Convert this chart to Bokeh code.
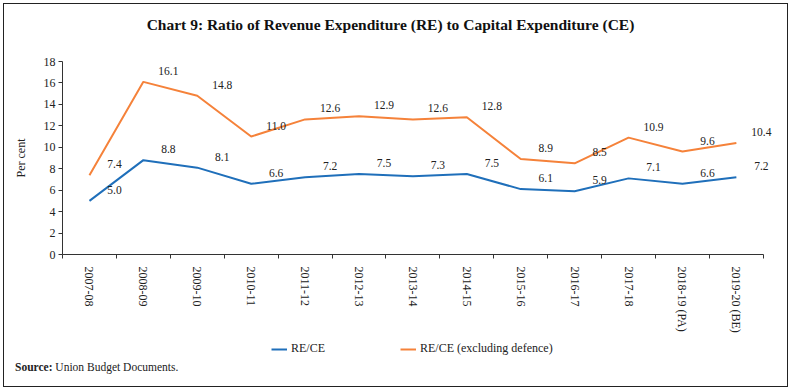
from bokeh.plotting import figure
from bokeh.models import (Range1d, FixedTicker, Legend, LegendItem,
                          ColumnDataSource, LabelSet, Div)
from bokeh.layouts import column
from bokeh.embed import file_html
from bokeh.resources import INLINE

categories = ["2007-08", "2008-09", "2009-10", "2010-11", "2011-12", "2012-13",
              "2013-14", "2014-15", "2015-16", "2016-17", "2017-18",
              "2018-19 (PA)", "2019-20 (BE)"]
re_ce = [5.0, 8.8, 8.1, 6.6, 7.2, 7.5, 7.3, 7.5, 6.1, 5.9, 7.1, 6.6, 7.2]
re_ce_excl_defence = [7.4, 16.1, 14.8, 11.0, 12.6, 12.9, 12.6, 12.8, 8.9, 8.5, 10.9, 9.6, 10.4]
y_ticks = [0, 2, 4, 6, 8, 10, 12, 14, 16, 18]
series_names = ["RE/CE", "RE/CE (excluding defence)"]

BLUE = "#1f6fba"
ORANGE = "#f5823a"
FONT = "Liberation Serif"
AXIS_COL = "#333333"
W = 779

n = len(categories)
xs = [i + 0.5 for i in range(n)]

src = ColumnDataSource(data=dict(
    x=xs, re=re_ce, ex=re_ce_excl_defence,
    re_lbl=[f"{v:.1f}" for v in re_ce],
    ex_lbl=[f"{v:.1f}" for v in re_ce_excl_defence],
))

# ---------- title ----------
title_div = Div(
    text="Chart 9: Ratio of Revenue Expenditure (RE) to Capital Expenditure (CE)",
    width=W - 8, height=19,
    styles={"font-family": "'Liberation Serif', serif", "font-size": "15.5px",
            "font-weight": "bold", "color": "#111111", "text-align": "center",
            "padding-top": "7px", "padding-right": "8px",
            "line-height": "18px"},
)

# ---------- main chart ----------
p = figure(width=W, height=302, output_backend="svg", toolbar_location=None,
           x_range=Range1d(0, n + 0.3), y_range=Range1d(0, 18),
           min_border_left=58, min_border_right=4, min_border_top=28,
           min_border_bottom=81)
p.outline_line_color = None
p.xgrid.visible = False
p.ygrid.visible = False

p.line("x", "re", source=src, line_color=BLUE, line_width=2)
p.line("x", "ex", source=src, line_color=ORANGE, line_width=2)

for col in ["re_lbl", "ex_lbl"]:
    ycol = "re" if col == "re_lbl" else "ex"
    p.add_layout(LabelSet(x="x", y=ycol, text=col, source=src, x_offset=25,
                          y_offset=11, text_align="center",
                          text_baseline="middle", text_font=FONT,
                          text_font_size="11.5px", text_color="#222222"))

# x axis
p.xaxis.ticker = FixedTicker(ticks=xs, minor_ticks=list(range(n + 1)))
p.xaxis.bounds = (0, n)
p.xaxis.major_label_overrides = {x: c for x, c in zip(xs, categories)}
p.xaxis.major_label_orientation = "vertical"
p.xaxis.major_tick_line_color = None
p.xaxis.minor_tick_line_color = AXIS_COL
p.xaxis.minor_tick_in = 0
p.xaxis.minor_tick_out = 4
p.xaxis.axis_line_color = AXIS_COL
p.xaxis.major_label_text_font = FONT
p.xaxis.major_label_text_font_size = "12px"
p.xaxis.major_label_text_color = "#222222"
p.xaxis.major_label_standoff = 6

# y axis
p.yaxis.ticker = FixedTicker(ticks=y_ticks)
p.yaxis.minor_tick_line_color = None
p.yaxis.major_tick_in = 0
p.yaxis.major_tick_out = 4
p.yaxis.major_tick_line_color = AXIS_COL
p.yaxis.axis_line_color = AXIS_COL
p.yaxis.major_label_text_font = FONT
p.yaxis.major_label_text_font_size = "12px"
p.yaxis.major_label_text_color = "#222222"
p.yaxis.major_label_standoff = 3
p.yaxis.axis_label = "Per cent"
p.yaxis.axis_label_text_font = FONT
p.yaxis.axis_label_text_font_style = "normal"
p.yaxis.axis_label_text_font_size = "12px"
p.yaxis.axis_label_text_color = "#222222"
p.yaxis.axis_label_standoff = 13

# ---------- legend strip ----------
lg = figure(width=W, height=21, output_backend="svg", toolbar_location=None,
            x_range=Range1d(0, 1), y_range=Range1d(0, 1),
            x_axis_type=None, y_axis_type=None, min_border=0)
lg.outline_line_color = None
lg.xgrid.visible = False
lg.ygrid.visible = False
nan = float("nan")
k1 = lg.line(x=[nan, nan], y=[nan, nan], line_color=BLUE, line_width=2)
k2 = lg.line(x=[nan, nan], y=[nan, nan], line_color=ORANGE, line_width=2)
legend = Legend(items=[LegendItem(label=series_names[0], renderers=[k1], index=0),
                       LegendItem(label=series_names[1], renderers=[k2], index=0)],
                orientation="horizontal", location=(209, 0),
                label_text_font=FONT, label_text_font_size="12px",
                label_text_color="#222222", glyph_width=16, glyph_height=14,
                label_height=14, label_standoff=4, spacing=75,
                border_line_color=None, background_fill_alpha=0,
                margin=0, padding=0)
lg.add_layout(legend, "center")

# ---------- source ----------
source_div = Div(
    text="<b>Source:</b> Union Budget Documents.",
    width=W - 6, height=20,
    styles={"font-family": "'Liberation Serif', serif", "font-size": "11.5px",
            "color": "#222222", "padding-left": "6px",
            "line-height": "12px"},
)

layout = column(title_div, p, lg, source_div, spacing=0,
                styles={"border": "1.3px solid #222222", "margin": "3px 0 0 3px"})

open("out.html", "w").write(file_html(layout, INLINE))
